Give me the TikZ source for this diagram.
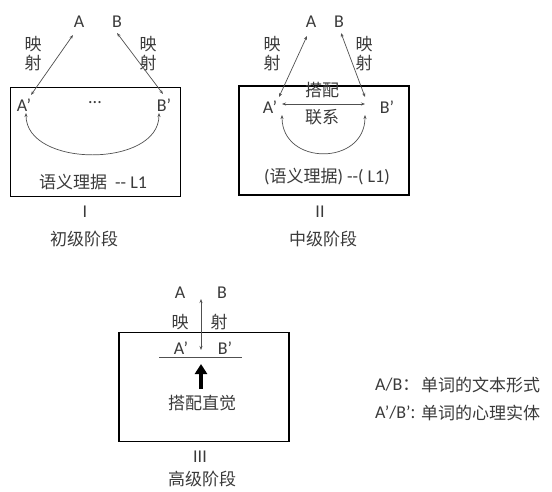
\documentclass[tikz,border=0pt]{standalone}
\usepackage{fontspec}
\setmainfont{Carlito}
\newfontfamily\cjk{Noto Sans CJK SC}
\usetikzlibrary{arrows.meta}
\definecolor{txt}{HTML}{3A3A3A}
\definecolor{lk}{HTML}{505050}
\begin{document}
\begin{tikzpicture}[x=1pt,y=-1pt,
  every node/.style={inner sep=0pt, text=txt, font=\fontsize{18}{21}\selectfont},
  zh/.style={font=\cjk\fontsize{17}{20}\selectfont},
  panel/.style={draw=black, line width=1.6pt, minimum width=170, minimum height=109},
  link/.style={draw=lk, line width=0.7pt, {Stealth[length=4pt,width=3pt]}-{Stealth[length=4pt,width=3pt]}},
  thin/.style={draw=lk, line width=0.9pt},
  bigarrow/.style={draw=black, line width=4.5pt, -{Triangle[length=10pt,width=12pt]}}]
\useasboundingbox (0,0) rectangle (552,492);

% ---------- Panel I ----------
\node[panel] (box1) at (95.5,142) {};
\node (a1) at (79,22) {A};
\node (b1) at (117,22) {B};
\node[zh] (m1a) at (33,44) {映};
\node[zh] (m1b) at (33,63) {射};
\node[zh] (m1c) at (148,44) {映};
\node[zh] (m1d) at (148,63) {射};
\node (ap1) at (24,105) {A’};
\node (dots1) at (95,103) {...};
\node (bp1) at (164,105) {B’};
\coordinate (p1a) at (31,95);
\coordinate (p1b) at (73,35);
\coordinate (p1c) at (117,33);
\coordinate (p1d) at (163,94);
\draw[link] (p1a) -- (p1b);
\draw[link] (p1c) -- (p1d);
\coordinate (c1a) at (26,113);
\coordinate (c1b) at (159,113);
\draw[link] (c1a) .. controls (26,168) and (159,168) .. (c1b);
\node (t1) at (93,182) {{\cjk\fontsize{17}{20}\selectfont 语义理据}\ \ -{}- L1};
\node (r1) at (85,212) {I};
\node[zh] (s1) at (84,239) {初级阶段};

% ---------- Panel II ----------
\node[panel] (box2) at (324,140.5) {};
\node (a2) at (311,22) {A};
\node (b2) at (339,22) {B};
\node[zh] (m2a) at (272,44) {映};
\node[zh] (m2b) at (272,63) {射};
\node[zh] (m2c) at (364,44) {映};
\node[zh] (m2d) at (364,63) {射};
\node (ap2) at (270,107) {A’};
\node (bp2) at (387,107) {B’};
\node[zh] (dp2) at (322,90) {搭配};
\node[zh] (lx2) at (322,117) {联系};
\coordinate (p2a) at (279,97);
\coordinate (p2b) at (307,36);
\coordinate (p2c) at (341,33);
\coordinate (p2d) at (365,97);
\draw[link] (p2a) -- (p2b);
\draw[link] (p2c) -- (p2d);
\coordinate (h2a) at (282,104);
\coordinate (h2b) at (365,104);
\draw[link] (h2a) -- (h2b);
\coordinate (c2a) at (282,115);
\coordinate (c2b) at (365,115);
\draw[link] (c2a) .. controls (282,166) and (365,166) .. (c2b);
\node (t2) at (327,177) {({\cjk\fontsize{17}{20}\selectfont 语义理据}) -{}-( L1)};
\node (r2) at (320,212) {II};
\node[zh] (s2) at (323,239) {中级阶段};

% ---------- Panel III ----------
\node[panel] (box3) at (204,387) {};
\node (a3) at (180,293) {A};
\node (b3) at (222,293) {B};
\node[zh] (m3a) at (180,322) {映};
\node[zh] (m3b) at (219,322) {射};
\node (ap3) at (181,348) {A’};
\node (bp3) at (225,348) {B’};
\coordinate (v3a) at (201,299);
\coordinate (v3b) at (201,350);
\draw[link] (v3a) -- (v3b);
\coordinate (l3a) at (159,357);
\coordinate (l3b) at (242,357);
\draw[thin] (l3a) -- (l3b);
\node[zh] (zj3) at (202,403) {搭配直觉};
\coordinate (k3a) at (201,389);
\coordinate (k3b) at (201,364);
\draw[bigarrow] (k3a) -- (k3b);
\node (r3) at (200,457) {III};
\node[zh] (s3) at (202,479) {高级阶段};

% ---------- Legend ----------
\node[anchor=west] (lg1) at (375,385) {A/B{\cjk\fontsize{17}{20}\selectfont ：}};
\node[zh, anchor=west] (lg1t) at (421,385) {单词的文本形式};
\node[anchor=west] (lg2) at (375,413) {A’/B’{\cjk\fontsize{17}{20}\selectfont :}};
\node[zh, anchor=west] (lg2t) at (421,413) {单词的心理实体};
\end{tikzpicture}
\end{document}
